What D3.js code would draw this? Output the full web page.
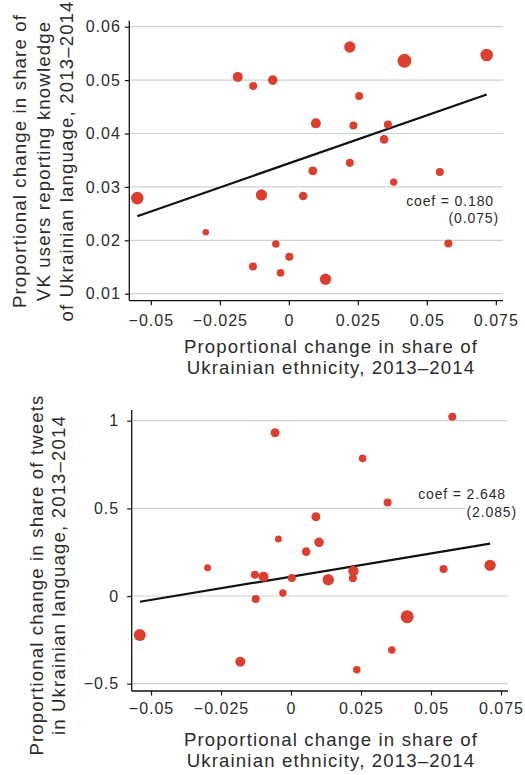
<!DOCTYPE html>
<html><head><meta charset="utf-8">
<script src="https://cdn.jsdelivr.net/npm/d3@7/dist/d3.min.js"></script>
<style>
html,body{margin:0;padding:0;background:#fff;}
svg text{font-family:"Liberation Sans",Arial,Helvetica,sans-serif;letter-spacing:0.062em;fill:#2b2b2b;}
</style></head><body>
<svg id="chart" width="525" height="775"></svg>
<script>
// ---------- data ----------
const xTicks = [-0.05, -0.025, 0, 0.025, 0.05, 0.075];
const xTickLabels = ["\u22120.05", "\u22120.025", "0", "0.025", "0.05", "0.075"];
const vkTicks = [0.01, 0.02, 0.03, 0.04, 0.05, 0.06];
const vkTickLabels = ["0.01", "0.02", "0.03", "0.04", "0.05", "0.06"];
const twTicks = [-0.5, 0, 0.5, 1];
const twTickLabels = ["\u22120.5", "0", "0.5", "1"];

// Panel A: VK users reporting knowledge of Ukrainian
const vkEthnicity = [-0.0549, 0.0221, 0.0419, 0.0717, -0.0185, -0.0129, -0.0058, 0.0255, 0.0098, 0.0234,
                     0.0359, 0.0345, 0.0221, 0.0087, 0.0547, 0.0380, -0.0099, 0.0052, -0.0301, -0.0047,
                     0.0578, 0.0002, -0.0130, -0.0030, 0.0133];
const vkKnowledge = [0.0279, 0.0562, 0.0536, 0.0547, 0.0506, 0.0489, 0.0500, 0.0470, 0.0419, 0.0415,
                     0.0417, 0.0389, 0.0345, 0.0330, 0.0328, 0.0309, 0.0285, 0.0283, 0.0215, 0.0193,
                     0.0194, 0.0169, 0.0151, 0.0139, 0.0127];
const vkWeight = [81, 66, 100, 81, 51, 33, 47, 33, 51, 33,
                  33, 38, 33, 41, 33, 28, 66, 38, 22, 29,
                  33, 33, 33, 29, 66];
const vkCoef = 0.180, vkSE = 0.075, vkIntercept = 0.0344;

// Panel B: tweets in Ukrainian
const twEthnicity = [0.0576, -0.0057, 0.0256, 0.0345, 0.0089, -0.0045, 0.0100, 0.0054, -0.0298, -0.0129,
                     -0.0098, 0.0003, 0.0133, 0.0223, 0.0221, 0.0545, 0.0711, -0.0029, -0.0126, 0.0415,
                     -0.0540, 0.0360, -0.0181, 0.0235];
const twTweets = [1.022, 0.931, 0.785, 0.534, 0.452, 0.325, 0.306, 0.253, 0.161, 0.121,
                  0.110, 0.103, 0.093, 0.143, 0.101, 0.154, 0.175, 0.017, -0.017, -0.118,
                  -0.222, -0.308, -0.375, -0.420];
const twWeight = [33, 41, 29, 33, 41, 25, 47, 38, 25, 33,
                  51, 33, 66, 55, 33, 33, 66, 28, 33, 86,
                  73, 29, 51, 29];
const twCoef = 2.648, twSE = 2.085, twIntercept = 0.1105;

const xTitle = ["Proportional change in share of", "Ukrainian ethnicity, 2013\u20132014"];
const vkTitle = ["Proportional change in share of", "VK users reporting knowledge", "of Ukrainian language, 2013\u20132014"];
const twTitle = ["Proportional change in share of tweets", "in Ukrainian language, 2013\u20132014"];

// ---------- drawing ----------
const svg = d3.select("#chart");
const dotColor = "#d9402f";
const rScale = d3.scaleSqrt().domain([0, 100]).range([0, 7]);

function panel(o) {
  const g = svg.append("g");
  const x = d3.scaleLinear().domain(o.xDom).range([o.left, o.right]);
  const y = d3.scaleLinear().domain(o.yDom).range([o.bottom, o.top]);

  // gridlines
  g.append("g").selectAll("line").data(o.yTicks).join("line")
    .attr("x1", o.left).attr("x2", o.right)
    .attr("y1", d => y(d)).attr("y2", d => y(d))
    .attr("stroke", "#d0d0d0").attr("stroke-width", 1.2);

  // y axis
  const ya = g.append("g").attr("transform", `translate(${o.left},0)`)
    .call(d3.axisLeft(y).tickValues(o.yTicks).tickSize(4.5).tickPadding(o.yPad)
      .tickFormat((d, i) => o.yLabels[i]));
  ya.select(".domain").attr("d", `M0,${o.top}V${o.bottom}`).attr("stroke", "#111").attr("stroke-width", 1.3);
  ya.selectAll(".tick line").attr("stroke", "#111").attr("stroke-width", 1.2);
  ya.selectAll("text").attr("font-size", 16).attr("fill", "#2b2b2b").attr("font-family", null);

  // x axis
  const xa = g.append("g").attr("transform", `translate(0,${o.bottom})`)
    .call(d3.axisBottom(x).tickValues(xTicks).tickSize(4.5).tickPadding(o.xPad)
      .tickFormat((d, i) => xTickLabels[i]));
  xa.select(".domain").attr("d", `M${o.left},0H${o.right}`).attr("stroke", "#111").attr("stroke-width", 1.3);
  xa.selectAll(".tick line").attr("stroke", "#111").attr("stroke-width", 1.2);
  xa.selectAll("text").attr("font-size", 16).attr("fill", "#2b2b2b").attr("font-family", null);

  // fit line
  const ext = d3.extent(o.xs);
  g.append("line")
    .attr("x1", x(ext[0])).attr("y1", y(o.intercept + o.coef * ext[0]))
    .attr("x2", x(ext[1])).attr("y2", y(o.intercept + o.coef * ext[1]))
    .attr("stroke", "#111").attr("stroke-width", 2.2);

  // points
  g.append("g").selectAll("circle").data(o.xs.map((d, i) => [d, o.ys[i], o.ws[i]])).join("circle")
    .attr("cx", d => x(d[0])).attr("cy", d => y(d[1])).attr("r", d => rScale(d[2]))
    .attr("fill", dotColor);

  // annotation
  const ann = g.append("g");
  const t1 = ann.append("text").attr("x", o.annX1).attr("y", o.annY1).attr("text-anchor", "end")
    .attr("font-size", 14).text("coef = " + o.coef.toFixed(3));
  const t2 = ann.append("text").attr("x", o.annX2).attr("y", o.annY1 + 17.5).attr("text-anchor", "end")
    .attr("font-size", 14).text("(" + o.se.toFixed(3) + ")");
  [t2].forEach(t => {
    const b = t.node().getBBox();
    ann.insert("rect", "text").attr("x", b.x - 1).attr("y", b.y).attr("width", b.width + 2).attr("height", b.height).attr("fill", "#fff");
  });

  // x title
  g.append("g").selectAll("text").data(xTitle).join("text")
    .attr("x", 331).attr("y", (d, i) => o.xTitleY + i * 21.7)
    .attr("text-anchor", "middle").attr("font-size", 18.6).text(d => d);

  // y title
  g.append("g").selectAll("text").data(o.yTitle).join("text")
    .attr("transform", (d, i) => `translate(${o.yTitleX[i]},${o.yTitleC}) rotate(-90)`)
    .attr("text-anchor", "middle").attr("font-size", 18.6).text(d => d);
}

panel({
  xs: vkEthnicity, ys: vkKnowledge, ws: vkWeight,
  coef: vkCoef, se: vkSE, intercept: vkIntercept,
  xDom: [-0.0578, 0.0776], yDom: [0.00869, 0.06112],
  left: 129.3, right: 503, top: 20.7, bottom: 300.7,
  yTicks: vkTicks, yLabels: vkTickLabels, yPad: 4, xPad: 9,
  annX1: 494, annX2: 499, annY1: 205.5,
  xTitleY: 352.7, yTitle: vkTitle, yTitleX: [26, 50, 73], yTitleC: 161
});

panel({
  xs: twEthnicity, ys: twTweets, ws: twWeight,
  coef: twCoef, se: twSE, intercept: twIntercept,
  xDom: [-0.0569, 0.0775], yDom: [-0.5417, 1.0610],
  left: 131.7, right: 508, top: 410, bottom: 691,
  yTicks: twTicks, yLabels: twTickLabels, yPad: 8, xPad: 7.5,
  annX1: 506, annX2: 517, annY1: 499.3,
  xTitleY: 745.7, yTitle: twTitle, yTitleX: [43.3, 65], yTitleC: 575
});
</script>
</body></html>
